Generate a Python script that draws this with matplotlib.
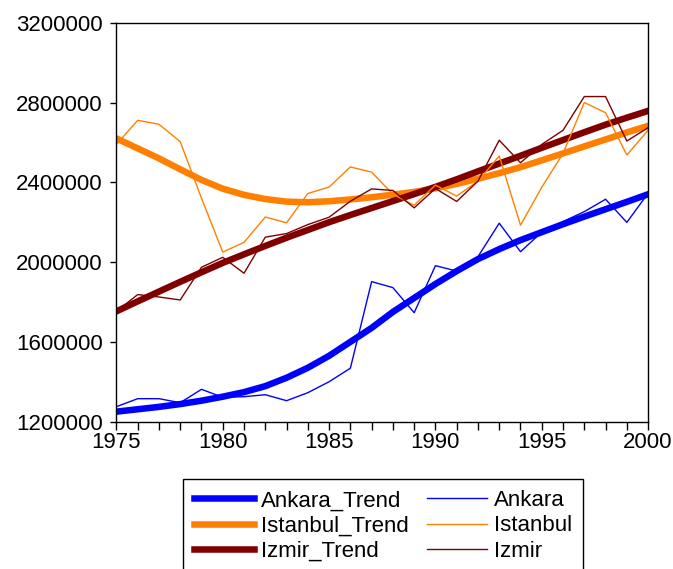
import numpy as np
import matplotlib.pyplot as plt
from matplotlib.ticker import MultipleLocator, FixedLocator

plt.rcParams['font.family'] = ['Liberation Sans', 'DejaVu Sans']

years = list(range(1975, 2001))

# values
ankara = [1275000, 1315000, 1315000, 1295000, 1362000, 1322000, 1325000, 1335000,
          1305000, 1345000, 1400000, 1468000, 1902000, 1872000, 1746000, 1982000,
          1955000, 2027000, 2195000, 2052000, 2150000, 2203000, 2253000, 2315000,
          2199000, 2345000]
istanbul = [2590000, 2711000, 2691000, 2604000, 2320000, 2050000, 2099000, 2226000,
            2197000, 2344000, 2376000, 2477000, 2451000, 2340000, 2285000, 2386000,
            2331000, 2406000, 2532000, 2185000, 2375000, 2545000, 2800000, 2749000,
            2537000, 2661000]
izmir = [1753000, 1837000, 1825000, 1810000, 1974000, 2024000, 1944000, 2125000,
         2143000, 2188000, 2225000, 2305000, 2367000, 2359000, 2272000, 2369000,
         2304000, 2406000, 2611000, 2498000, 2590000, 2661000, 2830000, 2830000,
         2607000, 2674000]

ankara_trend = [1250000, 1262000, 1274000, 1288000, 1305000, 1325000, 1348000, 1378000,
                1420000, 1470000, 1530000, 1600000, 1670000, 1750000, 1820000, 1890000,
                1955000, 2015000, 2065000, 2110000, 2150000, 2190000, 2228000, 2265000,
                2302000, 2340000]
istanbul_trend = [2620000, 2570000, 2520000, 2465000, 2412000, 2368000, 2337000, 2316000,
                  2303000, 2300000, 2305000, 2314000, 2325000, 2338000, 2352000, 2370000,
                  2392000, 2418000, 2446000, 2476000, 2510000, 2545000, 2580000, 2615000,
                  2650000, 2683000]
izmir_trend = [1753000, 1803000, 1852000, 1901000, 1949000, 1996000, 2039000, 2081000,
               2122000, 2161000, 2200000, 2236000, 2271000, 2306000, 2341000, 2377000,
               2415000, 2455000, 2494000, 2533000, 2573000, 2612000, 2651000, 2689000,
               2724000, 2758000]
yticks = [1200000, 1600000, 2000000, 2400000, 2800000, 3200000]

blue = '#0000ff'
orange = '#ff8000'
darkred = '#800000'

fig = plt.figure(figsize=(6.73, 5.69), dpi=100)
ax = fig.add_axes([0.173, 0.259, 0.790, 0.701])

ax.plot(years, ankara_trend, color=blue, lw=4.7, label='Ankara_Trend')
ax.plot(years, istanbul_trend, color=orange, lw=4.7, label='Istanbul_Trend')
ax.plot(years, izmir_trend, color=darkred, lw=4.7, label='Izmir_Trend')
ax.plot(years, ankara, color=blue, lw=1.0, label='Ankara')
ax.plot(years, istanbul, color=orange, lw=1.0, label='Istanbul')
ax.plot(years, izmir, color=darkred, lw=1.0, label='Izmir')

ax.set_xlim(1975, 2000)
ax.set_ylim(1200000, 3200000)
ax.xaxis.set_major_locator(MultipleLocator(5))
ax.xaxis.set_minor_locator(MultipleLocator(1))
ax.yaxis.set_major_locator(FixedLocator(yticks))
ax.set_yticklabels([str(v) for v in yticks])

ax.tick_params(axis='both', which='both', direction='out', width=1, colors='black', labelsize=16)
ax.tick_params(axis='x', which='both', length=5.8, pad=2)
ax.tick_params(axis='y', length=4.5, pad=5.5)
for s in ax.spines.values():
    s.set_linewidth(1)
    s.set_color('black')

ax.legend(ncol=2, loc='upper left', bbox_to_anchor=(0.272, 0.158),
          bbox_transform=fig.transFigure, borderaxespad=0, frameon=True,
          fancybox=False, edgecolor='black', fontsize=16, handlelength=2.7,
          handletextpad=0.3, columnspacing=0.85, labelspacing=0.19,
          borderpad=0.5, framealpha=1)

fig.savefig('out.png', dpi=100)
